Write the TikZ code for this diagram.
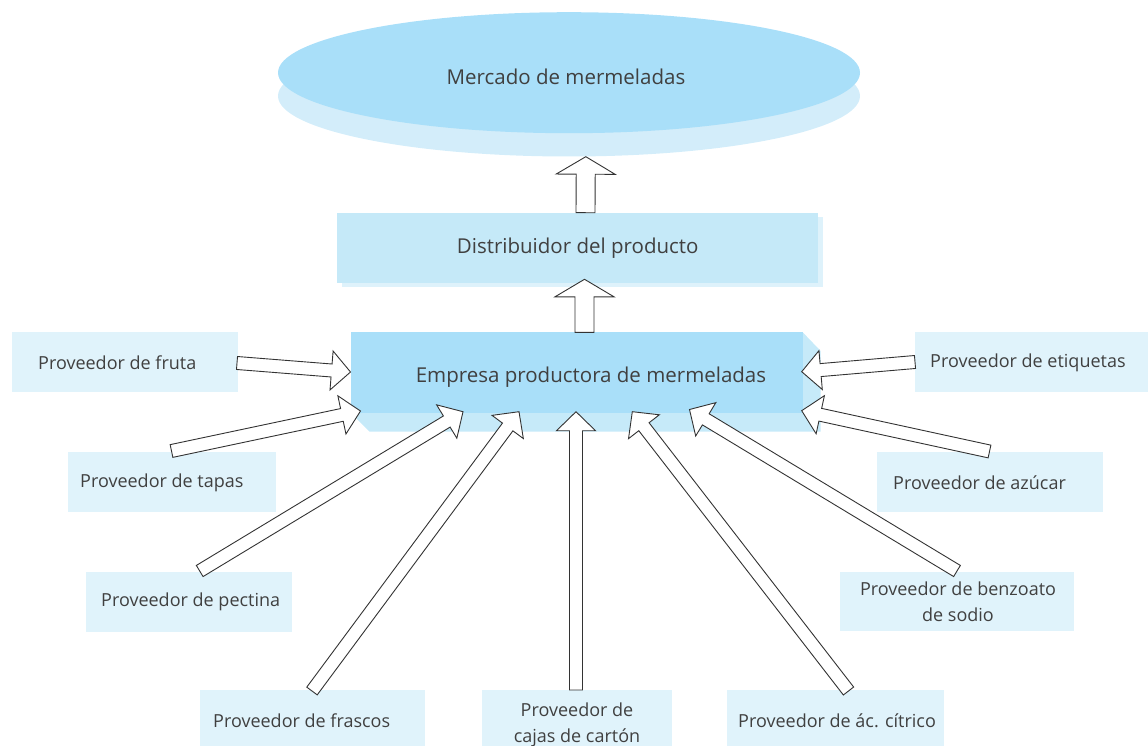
\documentclass[tikz,border=0pt]{standalone}
\usepackage{fontspec}
\setmainfont{Open Sans}
\usetikzlibrary{calc,shapes.geometric}
\definecolor{ellmain}{HTML}{A9DFF9}
\definecolor{ellshadow}{HTML}{D3EDFA}
\definecolor{empmain}{HTML}{A9DFF9}
\definecolor{empshadow}{HTML}{C6EAF9}
\definecolor{distmain}{HTML}{C5E9F8}
\definecolor{distshadow}{HTML}{DEF2FB}
\definecolor{supfill}{HTML}{E0F3FB}
\definecolor{txt}{HTML}{404040}
\definecolor{arrline}{HTML}{333333}
\newcommand\blockarr[5]{%
  \path ($(#2)!#5!(#1)$) coordinate (hbase);
  \draw[fatarrow] ($(#1)!#3!90:(#2)$) -- ($(hbase)!#3!90:(#2)$) -- ($(hbase)!#4!90:(#2)$)
    -- (#2) -- ($(hbase)!#4!-90:(#2)$) -- ($(hbase)!#3!-90:(#2)$) -- ($(#1)!#3!-90:(#2)$) -- cycle;
}
\tikzset{
  fatarrow/.style={draw=arrline, fill=white, line width=0.9pt, line join=miter},
  supbox/.style={fill=supfill, draw=none, inner sep=0pt},
  suptext/.style={inner sep=0pt, text=txt, font=\fontsize{18}{26}\selectfont},
  bigtext/.style={inner sep=0pt, text=txt, font=\fontsize{20.5}{24}\selectfont},
}
\begin{document}
\begin{tikzpicture}[x=1pt,y=-1pt]
\useasboundingbox (0,0) rectangle (1148,746);
% market ellipse
\node[ellipse, fill=ellshadow, minimum width=582pt, minimum height=121pt, inner sep=0pt] (mercadoShadow) at (569,96) {};
\node[ellipse, fill=ellmain, minimum width=582pt, minimum height=121pt, inner sep=0pt] (mercado) at (569,72.7) {};
\node[bigtext] (mercadoText) at (566,76.5) {Mercado de mermeladas};
% distributor
\fill[distshadow] (341.7,217.3) rectangle (822.7,286.7);
\node[fill=distmain, inner sep=0pt, minimum width=481pt, minimum height=69.4pt] (dist) at (577.8,248) {};
\node[bigtext] (distText) at (577.7,248.5) {Distribuidor del producto};
% company
\fill[empshadow] (350.7,412.7) -- (369.5,431.7) -- (820.7,431.7) -- (820.7,351) -- (802.7,332.3) -- cycle;
\node[fill=empmain, inner sep=0pt, minimum width=452pt, minimum height=80.4pt] (emp) at (576.7,372.5) {};
\node[bigtext] (empText) at (591,377.5) {Empresa productora de mermeladas};
% supplier boxes
\node[supbox, minimum width=226pt, minimum height=60pt] (fruta) at (124.7,362.3) {};
\node[suptext, anchor=west] (frutaT) at (38,363) {Proveedor de fruta};
\node[supbox, minimum width=208pt, minimum height=60pt] (tapas) at (172.2,482.3) {};
\node[suptext, anchor=west] (tapasT) at (80,483) {Proveedor de tapas};
\node[supbox, minimum width=206pt, minimum height=60pt] (pectina) at (189,602) {};
\node[suptext, anchor=west] (pectinaT) at (101,602) {Proveedor de pectina};
\node[supbox, minimum width=225pt, minimum height=56pt] (frascos) at (312.5,718) {};
\node[suptext, anchor=west] (frascosT) at (213,721) {Proveedor de frascos};
\node[supbox, minimum width=190pt, minimum height=56pt] (cajas) at (577,718) {};
\node[suptext, align=center] (cajasT) at (577,725) {Proveedor de\\cajas de cartón};
\node[supbox, minimum width=217pt, minimum height=56pt] (citrico) at (835.5,718) {};
\node[suptext, anchor=west] (citricoT) at (738,721) {Proveedor de ác. cítrico};
\node[supbox, minimum width=234pt, minimum height=59pt] (benzoato) at (957,601.5) {};
\node[suptext, align=center] (benzoatoT) at (958,602) {Proveedor de benzoato\\de sodio};
\node[supbox, minimum width=226pt, minimum height=60pt] (azucar) at (989.7,482.3) {};
\node[suptext, anchor=west] (azucarT) at (893,483) {Proveedor de azúcar};
\node[supbox, minimum width=233pt, minimum height=60pt] (etiquetas) at (1031.5,362.3) {};
\node[suptext, anchor=west] (etiquetasT) at (930,363) {Proveedor de etiquetas};
% arrow end points
\coordinate (distTop) at (585.5,212.7);
\coordinate (mercBot) at (585.8,156.7);
\coordinate (empTop) at (584.5,332.3);
\coordinate (distBot) at (584.5,279.3);
\coordinate (tFruta) at (237,363);      \coordinate (hFruta) at (350.5,372);
\coordinate (tTapas) at (171.5,451);    \coordinate (hTapas) at (360.5,411);
\coordinate (tPectina) at (199.7,571);  \coordinate (hPectina) at (463,411.7);
\coordinate (tFrascos) at (312,691);    \coordinate (hFrascos) at (519,411.7);
\coordinate (tCajas) at (576,690);      \coordinate (hCajas) at (576,411.7);
\coordinate (tCitrico) at (848.5,691);  \coordinate (hCitrico) at (632.3,411.7);
\coordinate (tBenzoato) at (957,571);   \coordinate (hBenzoato) at (689.5,409.5);
\coordinate (tAzucar) at (989.5,451.5); \coordinate (hAzucar) at (801.7,410.7);
\coordinate (tEtiq) at (915,362);       \coordinate (hEtiq) at (801.7,371.7);
% arrows
\blockarr{distTop}{mercBot}{9.5pt}{29.5pt}{17.5pt}
\blockarr{empTop}{distBot}{9.5pt}{29.5pt}{17.5pt}
\blockarr{tFruta}{hFruta}{6.5pt}{19.5pt}{19pt}
\blockarr{tTapas}{hTapas}{6.5pt}{19.5pt}{19pt}
\blockarr{tPectina}{hPectina}{6.5pt}{19.5pt}{19pt}
\blockarr{tFrascos}{hFrascos}{6.5pt}{19.5pt}{19pt}
\blockarr{tCajas}{hCajas}{6.5pt}{19.5pt}{19pt}
\blockarr{tCitrico}{hCitrico}{6.5pt}{19.5pt}{19pt}
\blockarr{tBenzoato}{hBenzoato}{6.5pt}{19.5pt}{19pt}
\blockarr{tAzucar}{hAzucar}{6.5pt}{19.5pt}{19pt}
\blockarr{tEtiq}{hEtiq}{6.5pt}{19.5pt}{19pt}
\end{tikzpicture}
\end{document}
